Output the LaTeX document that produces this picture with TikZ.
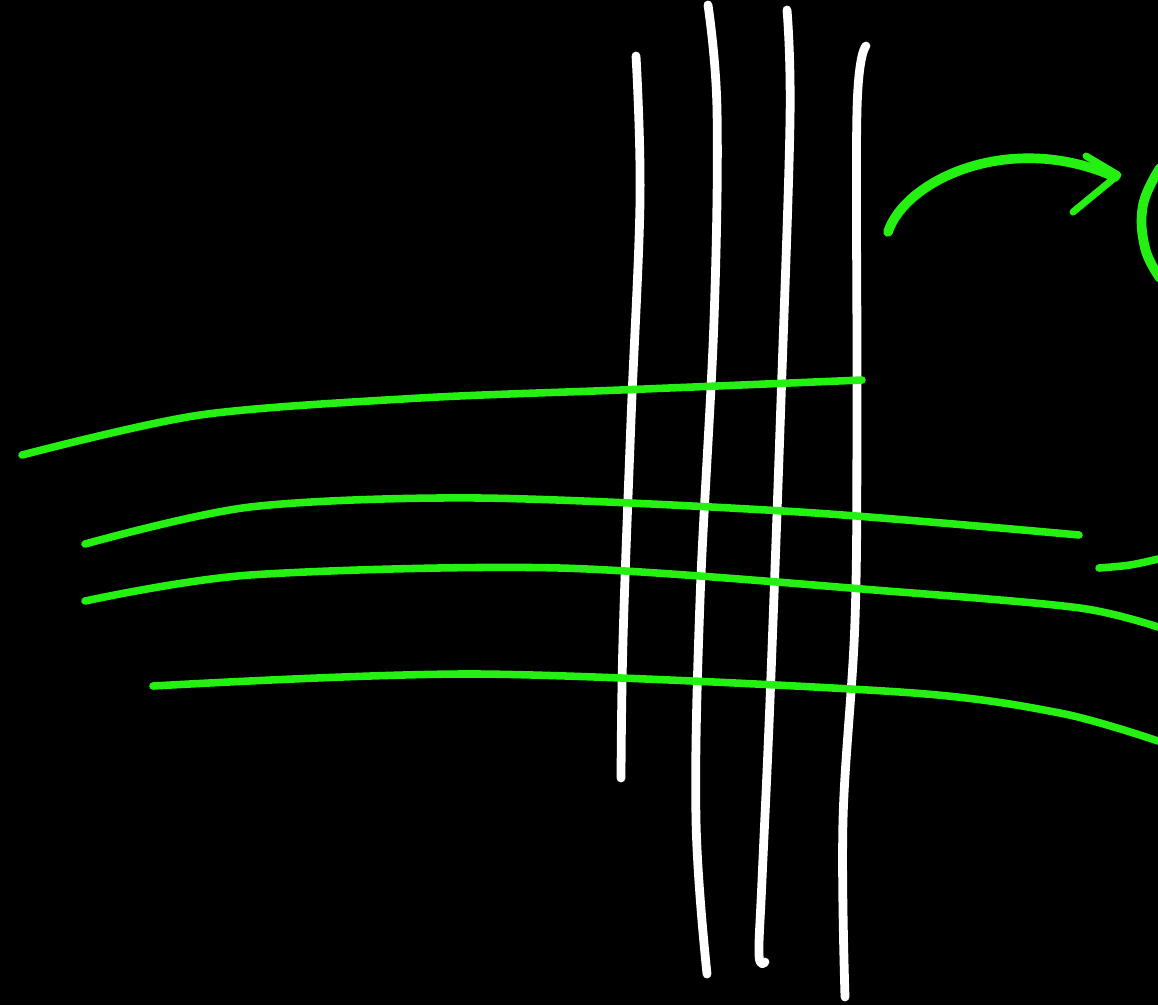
\documentclass[tikz,border=0pt]{standalone}
\usepackage{xcolor}
\usepackage{tikz}
\definecolor{inkgreen}{RGB}{36,240,18}

\begin{document}
\begin{tikzpicture}[
    x=0.02cm, y=-0.02cm,
    warp/.style={draw=white, line width=5pt, line cap=round, line join=round},
    weft/.style={draw=inkgreen, line width=4.3pt, line cap=round, line join=round},
    bold/.style={draw=inkgreen, line width=5.5pt, line cap=round, line join=round},
]

\fill[black] (0,0) rectangle (1158,1005);
\useasboundingbox (0,0) rectangle (1158,1005);

% white vertical strokes
\draw[warp] plot[smooth, tension=0.6] coordinates {(636,56) (640,200) (631,420) (623,640) (621,778)};
\draw[warp] plot[smooth, tension=0.6] coordinates {(708,5) (717,110) (714,320) (700,600) (696,820) (707,974)};
\draw[warp] plot[smooth, tension=0.6] coordinates {(787,10) (790,120) (781,400) (770,700) (762,880) (759,955) (765,962)};
\draw[warp] plot[smooth, tension=0.6] coordinates {(866,46) (857,110) (857,400) (855,620) (843,820) (845,997)};

% green horizontal strokes
\draw[weft] plot[smooth, tension=0.5] coordinates {(22,455) (200,415) (420,398) (620,390) (862,380)};
\draw[weft] plot[smooth, tension=0.5] coordinates {(85,544) (250,507) (480,498) (800,512) (1079,535)};
\draw[weft] plot[smooth, tension=0.6] coordinates {(1099,568) (1130,565) (1158,559)};
\draw[weft] plot[smooth, tension=0.5] coordinates {(85,601) (250,575) (560,568) (900,592) (1080,608) (1158,627)};
\draw[weft] plot[smooth, tension=0.5] coordinates {(153,686) (480,674) (900,692) (1060,713) (1158,741)};

% curved arrow
\draw[bold] (888,232) .. controls (905,180) and (1010,130) .. (1115,177);
\draw[bold, line width=4pt] (1086,156) -- (1118,175) -- (1073,212);

% partial bracket at the edge
\draw[bold] plot[smooth, tension=0.7] coordinates {(1160,168) (1143,205) (1145,248) (1160,278)};

\end{tikzpicture}
\end{document}
